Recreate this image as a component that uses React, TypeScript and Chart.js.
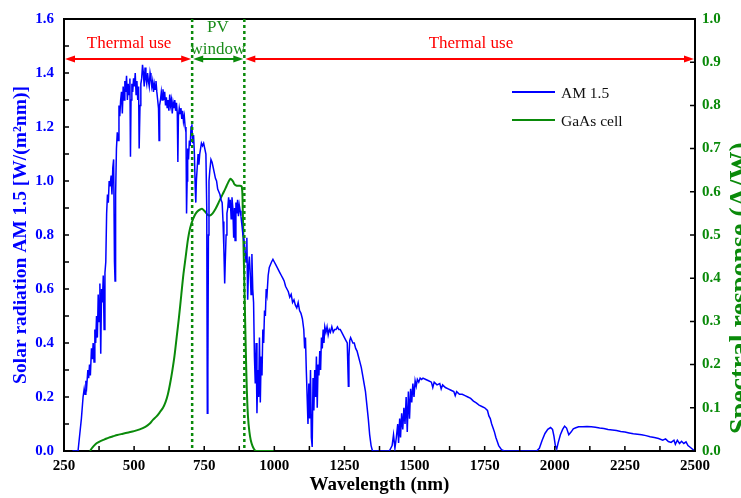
import React, { useEffect, useRef } from "react";
import { Chart, registerables } from "chart.js";

Chart.register(...registerables);

const SERIF = "'Liberation Serif', 'Times New Roman', serif";

// AM 1.5 solar spectrum [wavelength nm, W/(m2 nm)]
const AM15_POINTS: [number, number][] = [
  [280, 0], [300, 0], [305, 0.05], [312, 0.12], [318, 0.2], [322, 0.23], [325, 0.21], [328, 0.26], [331, 0.24],
  [335, 0.3], [338, 0.27], [341, 0.32], [344, 0.28], [348, 0.38], [351, 0.34], [354, 0.4], [357, 0.33], [360, 0.45],
  [363, 0.4], [366, 0.5], [369, 0.42], [372, 0.58], [375, 0.48], [378, 0.62], [381, 0.36], [384, 0.6], [387, 0.55],
  [390, 0.65], [393, 0.45], [396, 0.66], [399, 0.7], [402, 0.88], [405, 0.95], [408, 0.92], [411, 1.0], [414, 0.98],
  [418, 1.02], [421, 0.95], [424, 1.05], [427, 1.08], [430, 0.7], [432, 0.63], [434, 0.95], [437, 1.12], [440, 1.18],
  [443, 1.15], [446, 1.28], [449, 1.24], [452, 1.3], [455, 1.33], [458, 1.25], [461, 1.35], [464, 1.3], [467, 1.37],
  [470, 1.33], [473, 1.39], [476, 1.3], [479, 1.36], [482, 1.32], [485, 1.38], [487, 1.09], [489, 1.3], [492, 1.36],
  [495, 1.33], [498, 1.38], [501, 1.35], [504, 1.4], [507, 1.32], [510, 1.37], [513, 1.3], [516, 1.35], [518, 1.12],
  [521, 1.28], [524, 1.36], [527, 1.38], [530, 1.43], [533, 1.4], [536, 1.35], [539, 1.42], [542, 1.38], [545, 1.36],
  [548, 1.4], [551, 1.37], [554, 1.35], [557, 1.4], [560, 1.38], [563, 1.35], [566, 1.37], [569, 1.33], [572, 1.36],
  [575, 1.34], [578, 1.37], [581, 1.33], [584, 1.3], [587, 1.27], [589, 1.15], [591, 1.28], [594, 1.3], [597, 1.33],
  [600, 1.3], [603, 1.34], [606, 1.3], [609, 1.33], [612, 1.28], [615, 1.31], [618, 1.27], [621, 1.3], [624, 1.26],
  [627, 1.32], [630, 1.28], [633, 1.3], [636, 1.25], [639, 1.29], [642, 1.27], [645, 1.3], [648, 1.26], [651, 1.29],
  [654, 1.25], [656, 1.07], [658, 1.24], [661, 1.27], [664, 1.25], [667, 1.27], [670, 1.23], [673, 1.26], [676, 1.22],
  [679, 1.24], [682, 1.2], [685, 1.18], [687, 0.88], [689, 1.0], [691, 1.12], [694, 1.08], [697, 1.15], [700, 1.13],
  [703, 1.2], [706, 1.21], [709, 1.14], [712, 1.17], [715, 1.1], [718, 0.97], [720, 0.92], [722, 1.0], [725, 1.05],
  [728, 1.1], [731, 1.06], [734, 1.1], [737, 1.12], [740, 1.14], [744, 1.13], [748, 1.14], [752, 1.12], [756, 1.1],
  [759, 0.9], [761, 0.14], [763, 0.3], [765, 0.8], [767, 1.0], [770, 1.04], [774, 1.08], [778, 1.07], [782, 1.05],
  [786, 1.03], [790, 1.01], [794, 1.0], [798, 0.97], [802, 0.96], [806, 0.95], [810, 0.93], [814, 0.92], [817, 0.85],
  [820, 0.75], [823, 0.62], [825, 0.7], [828, 0.8], [831, 0.88], [834, 0.9], [837, 0.94], [840, 0.9], [843, 0.93],
  [846, 0.86], [849, 0.94], [852, 0.9], [855, 0.79], [858, 0.9], [860, 0.78], [863, 0.92], [866, 0.88], [869, 0.93],
  [872, 0.87], [875, 0.91], [878, 0.89], [881, 0.87], [884, 0.84], [888, 0.8], [892, 0.78], [896, 0.74], [899, 0.7],
  [902, 0.79], [905, 0.56], [908, 0.68], [911, 0.72], [914, 0.66], [917, 0.58], [920, 0.73], [923, 0.6], [926, 0.55],
  [929, 0.35], [932, 0.25], [935, 0.4], [938, 0.14], [941, 0.3], [944, 0.2], [947, 0.42], [950, 0.18], [953, 0.35],
  [956, 0.28], [959, 0.45], [962, 0.4], [965, 0.52], [968, 0.5], [971, 0.6], [974, 0.58], [978, 0.65], [982, 0.68],
  [986, 0.69], [990, 0.7], [995, 0.71], [1000, 0.7], [1005, 0.69], [1010, 0.68], [1015, 0.67], [1020, 0.66],
  [1025, 0.65], [1030, 0.64], [1035, 0.63], [1040, 0.61], [1045, 0.6], [1050, 0.59], [1055, 0.57], [1060, 0.58],
  [1065, 0.55], [1070, 0.56], [1075, 0.54], [1080, 0.53], [1085, 0.55], [1090, 0.52], [1095, 0.51], [1100, 0.49],
  [1105, 0.45], [1108, 0.38], [1111, 0.42], [1114, 0.3], [1117, 0.2], [1120, 0.1], [1123, 0.25], [1126, 0.12],
  [1129, 0.3], [1132, 0.05], [1135, 0.015], [1138, 0.27], [1141, 0.15], [1144, 0.3], [1147, 0.2], [1150, 0.35],
  [1153, 0.16], [1156, 0.32], [1159, 0.28], [1162, 0.37], [1165, 0.3], [1168, 0.42], [1171, 0.38], [1174, 0.45],
  [1177, 0.4], [1180, 0.46], [1184, 0.44], [1188, 0.46], [1192, 0.43], [1196, 0.45], [1200, 0.44], [1205, 0.46],
  [1210, 0.44], [1215, 0.45], [1220, 0.45], [1225, 0.46], [1230, 0.45], [1235, 0.45], [1240, 0.44], [1245, 0.43],
  [1250, 0.42], [1255, 0.41], [1260, 0.4], [1264, 0.24], [1266, 0.35], [1269, 0.41], [1272, 0.42], [1276, 0.41],
  [1280, 0.4], [1285, 0.4], [1290, 0.38], [1295, 0.37], [1300, 0.35], [1305, 0.33], [1310, 0.31], [1315, 0.28],
  [1320, 0.25], [1325, 0.22], [1330, 0.17], [1335, 0.12], [1340, 0.06], [1345, 0.02], [1350, 0], [1410, 0],
  [1420, 0.02], [1425, 0.06], [1430, 0.01], [1435, 0.05], [1440, 0.1], [1443, 0.03], [1447, 0.12], [1450, 0.05],
  [1454, 0.14], [1458, 0.08], [1462, 0.16], [1466, 0.1], [1470, 0.2], [1474, 0.07], [1478, 0.22], [1482, 0.12],
  [1486, 0.23], [1490, 0.18], [1494, 0.25], [1498, 0.2], [1502, 0.26], [1506, 0.24], [1510, 0.265], [1515, 0.255],
  [1520, 0.27], [1525, 0.265], [1530, 0.27], [1540, 0.265], [1550, 0.26], [1560, 0.255], [1565, 0.235], [1570, 0.255],
  [1580, 0.245], [1590, 0.25], [1595, 0.23], [1600, 0.245], [1610, 0.235], [1620, 0.23], [1630, 0.225], [1640, 0.22],
  [1645, 0.205], [1650, 0.22], [1660, 0.21], [1670, 0.21], [1680, 0.205], [1690, 0.2], [1700, 0.195], [1710, 0.185],
  [1720, 0.178], [1730, 0.17], [1740, 0.165], [1750, 0.16], [1760, 0.15], [1765, 0.13], [1770, 0.12], [1775, 0.1],
  [1780, 0.085], [1785, 0.07], [1790, 0.05], [1795, 0.035], [1800, 0.02], [1810, 0.005], [1820, 0], [1935, 0],
  [1945, 0.01], [1955, 0.04], [1965, 0.065], [1975, 0.08], [1985, 0.087], [1992, 0.08], [1997, 0.055], [2002, 0.02],
  [2007, 0.008], [2012, 0.03], [2020, 0.06], [2028, 0.08], [2035, 0.092], [2042, 0.085], [2050, 0.06], [2058, 0.07],
  [2066, 0.082], [2075, 0.086], [2085, 0.09], [2100, 0.09], [2115, 0.091], [2130, 0.09], [2145, 0.088], [2160, 0.085],
  [2175, 0.083], [2190, 0.08], [2205, 0.078], [2220, 0.076], [2235, 0.072], [2250, 0.07], [2265, 0.067], [2280, 0.064],
  [2295, 0.062], [2310, 0.06], [2325, 0.057], [2340, 0.053], [2355, 0.05], [2370, 0.046], [2385, 0.04], [2395, 0.045],
  [2405, 0.035], [2415, 0.032], [2425, 0.04], [2430, 0.025], [2437, 0.04], [2445, 0.028], [2452, 0.036], [2460, 0.028],
  [2468, 0.034], [2475, 0.02], [2485, 0.012], [2495, 0.003], [2500, 0],
];

// GaAs cell spectral response [wavelength nm, A/W]
const GAAS_POINTS: [number, number][] = [
  [343, 0], [350, 0.007], [358, 0.013], [366, 0.018], [380, 0.023], [395, 0.027], [410, 0.031], [425, 0.034],
  [440, 0.037], [460, 0.04], [480, 0.043], [500, 0.046], [520, 0.05], [540, 0.056], [555, 0.063], [567, 0.072],
  [580, 0.08], [592, 0.09], [603, 0.1], [612, 0.113], [620, 0.13], [628, 0.155], [636, 0.185], [644, 0.22],
  [652, 0.265], [660, 0.31], [668, 0.36], [676, 0.41], [684, 0.45], [692, 0.49], [700, 0.517], [710, 0.537],
  [720, 0.55], [730, 0.557], [742, 0.561], [752, 0.555], [762, 0.547], [770, 0.545], [780, 0.55], [790, 0.56],
  [800, 0.573], [810, 0.587], [820, 0.6], [830, 0.614], [838, 0.625], [843, 0.63], [848, 0.628], [853, 0.624],
  [858, 0.617], [866, 0.614], [876, 0.614], [884, 0.612], [887, 0.57], [890, 0.48], [894, 0.36], [898, 0.24],
  [902, 0.14], [906, 0.08], [911, 0.045], [916, 0.025], [922, 0.012], [928, 0.004], [935, 0], [1000, 0],
];

const SERIES_LABELS = ["AM 1.5", "GaAs cell"];
const X_TITLE = "Wavelength (nm)";
const Y_LEFT_TITLE = "Solar radiation AM 1.5 [W/(m\u00B2nm)]";
const Y_RIGHT_TITLE = "Spectral response (A/W)";

// PV window boundaries (nm) and annotation level (left axis units)
const PV_WINDOW = [707, 893];
const ARROW_LEVEL = 1.452;
const ANNOTATIONS = [
  { text: "Thermal use", x: 482, y: 1.508, color: "#ff0000" },
  { text: "Thermal use", x: 1701, y: 1.508, color: "#ff0000" },
  { text: "PV", x: 799, y: 1.567, color: "#1a8c1a" },
  { text: "window", x: 799, y: 1.486, color: "#1a8c1a" },
];

const BLUE = "#0000ff";
const GREEN = "#0a8a0a";
const RED = "#ff0000";

function arrowHead(ctx: CanvasRenderingContext2D, x: number, y: number, dir: number, color: string) {
  ctx.save();
  ctx.fillStyle = color;
  ctx.beginPath();
  ctx.moveTo(x, y);
  ctx.lineTo(x - dir * 10, y - 3.5);
  ctx.lineTo(x - dir * 10, y + 3.5);
  ctx.closePath();
  ctx.fill();
  ctx.restore();
}

const decorPlugin = {
  id: "decor",
  afterDatasetsDraw(chart: any) {
    const { ctx, chartArea } = chart;
    const xs = chart.scales.x;
    const yl = chart.scales.y;
    const yr = chart.scales.y1;
    const { left, right, top, bottom } = chartArea;
    ctx.save();

    // top frame line
    ctx.strokeStyle = "#000";
    ctx.lineWidth = 2;
    ctx.beginPath();
    ctx.moveTo(left - 1, top);
    ctx.lineTo(right + 1, top);
    ctx.stroke();

    // inward ticks
    ctx.lineWidth = 1.5;
    ctx.beginPath();
    for (let i = 0; i <= 16; i++) {
      const y = yl.getPixelForValue(i * 0.1);
      ctx.moveTo(left, y);
      ctx.lineTo(left + 5, y);
    }
    for (let i = 0; i <= 10; i++) {
      const y = yr.getPixelForValue(i * 0.1);
      ctx.moveTo(right, y);
      ctx.lineTo(right - 5, y);
    }
    for (let v = 250; v <= 2500; v += 125) {
      const x = xs.getPixelForValue(v);
      ctx.moveTo(x, bottom);
      ctx.lineTo(x, bottom - 5);
    }
    ctx.stroke();

    // PV window dashed boundaries
    const xa = xs.getPixelForValue(PV_WINDOW[0]);
    const xb = xs.getPixelForValue(PV_WINDOW[1]);
    ctx.strokeStyle = GREEN;
    ctx.lineWidth = 2.5;
    ctx.setLineDash([3, 3]);
    ctx.beginPath();
    ctx.moveTo(xa, top);
    ctx.lineTo(xa, bottom);
    ctx.moveTo(xb, top);
    ctx.lineTo(xb, bottom);
    ctx.stroke();
    ctx.setLineDash([]);

    // arrows
    const ay = yl.getPixelForValue(ARROW_LEVEL);
    const segs: [number, number, string][] = [
      [left + 1, xa - 1, RED],
      [xa + 1, xb - 1, GREEN],
      [xb + 1, right - 1, RED],
    ];
    for (const [x0, x1, c] of segs) {
      ctx.strokeStyle = c;
      ctx.lineWidth = 2;
      ctx.beginPath();
      ctx.moveTo(x0 + 6, ay);
      ctx.lineTo(x1 - 6, ay);
      ctx.stroke();
      arrowHead(ctx, x0, ay, -1, c);
      arrowHead(ctx, x1, ay, 1, c);
    }

    // annotation texts
    ctx.textAlign = "center";
    ctx.textBaseline = "middle";
    ctx.font = `17px ${SERIF}`;
    for (const a of ANNOTATIONS) {
      ctx.fillStyle = a.color;
      ctx.fillText(a.text, xs.getPixelForValue(a.x), yl.getPixelForValue(a.y));
    }

    // legend
    const ds = chart.data.datasets;
    const lx = 512;
    const lys = [92, 120];
    ctx.font = `15.5px ${SERIF}`;
    ctx.textAlign = "left";
    ds.forEach((d: any, i: number) => {
      ctx.strokeStyle = d.borderColor;
      ctx.lineWidth = 2;
      ctx.beginPath();
      ctx.moveTo(lx, lys[i]);
      ctx.lineTo(lx + 43, lys[i]);
      ctx.stroke();
      ctx.fillStyle = "#111";
      ctx.fillText(d.label, lx + 49, lys[i] + 2);
    });

    // right axis title (reads bottom-to-top)
    ctx.save();
    ctx.translate(748, 288);
    ctx.rotate(-Math.PI / 2);
    ctx.font = `bold 28px ${SERIF}`;
    ctx.fillStyle = GREEN;
    ctx.textAlign = "center";
    ctx.textBaseline = "alphabetic";
    ctx.fillText(Y_RIGHT_TITLE, 0, 0);
    ctx.restore();

    ctx.restore();
  },
};

export default function App() {
  const ref = useRef<HTMLCanvasElement | null>(null);
  useEffect(() => {
    document.body.style.margin = "0";
    const canvas = ref.current;
    if (!canvas) return;
    const chart = new Chart(canvas, {
      type: "line",
      data: {
        datasets: [
          {
            label: SERIES_LABELS[0],
            data: AM15_POINTS.map(([x, y]) => ({ x, y })),
            borderColor: BLUE,
            borderWidth: 1.5,
            pointRadius: 0,
            tension: 0,
            yAxisID: "y",
          },
          {
            label: SERIES_LABELS[1],
            data: GAAS_POINTS.map(([x, y]) => ({ x, y })),
            borderColor: GREEN,
            borderWidth: 2,
            pointRadius: 0,
            tension: 0.3,
            yAxisID: "y1",
          },
        ],
      },
      options: {
        responsive: false,
        animation: false,
        devicePixelRatio: 1,
        layout: { padding: { top: 18, left: 0, right: 0, bottom: 0 } },
        plugins: { legend: { display: false }, tooltip: { enabled: false } },
        scales: {
          x: {
            type: "linear",
            min: 250,
            max: 2500,
            grid: { display: false, drawTicks: false },
            border: { display: true, color: "#000", width: 2 },
            ticks: {
              stepSize: 250,
              color: "#000",
              padding: 6,
              maxRotation: 0,
              font: { family: SERIF, size: 15, weight: "bold" },
              callback: (v: any) => String(Math.round(Number(v))),
            },
            title: {
              display: true,
              text: X_TITLE,
              color: "#000",
              font: { family: SERIF, size: 19, weight: "bold", lineHeight: 1 },
              padding: { top: 0, bottom: 3 },
            },
            afterFit: (s: any) => {
              s.height = 47;
            },
          },
          y: {
            type: "linear",
            position: "left",
            min: 0,
            max: 1.6,
            grid: { display: false, drawTicks: false },
            border: { display: true, color: "#000", width: 2 },
            ticks: {
              stepSize: 0.2,
              color: BLUE,
              padding: 10,
              font: { family: SERIF, size: 15, weight: "bold" },
              callback: (v: any) => Number(v).toFixed(1),
            },
            title: {
              display: true,
              text: Y_LEFT_TITLE,
              color: BLUE,
              font: { family: SERIF, size: 19.5, weight: "bold", lineHeight: 1 },
              padding: { top: 11, bottom: 0 },
            },
            afterFit: (s: any) => {
              s.width = 64;
            },
          },
          y1: {
            type: "linear",
            position: "right",
            min: 0,
            max: 1.0,
            grid: { display: false, drawTicks: false },
            border: { display: true, color: "#000", width: 2 },
            ticks: {
              stepSize: 0.1,
              color: GREEN,
              padding: 7,
              font: { family: SERIF, size: 15, weight: "bold" },
              callback: (v: any) => Number(v).toFixed(1),
            },
            afterFit: (s: any) => {
              s.width = 46;
            },
          },
        },
      },
      plugins: [decorPlugin],
    });
    return () => chart.destroy();
  }, []);
  return <canvas ref={ref} width={741} height={498} style={{ display: "block" }} />;
}
